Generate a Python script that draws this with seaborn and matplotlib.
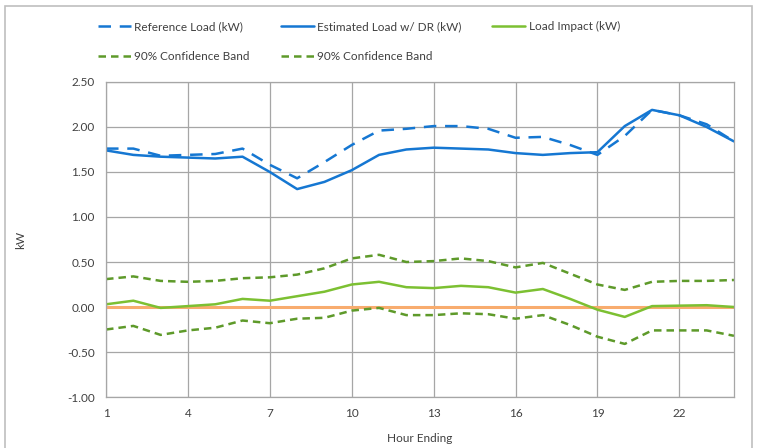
import numpy as np
import matplotlib
matplotlib.use("Agg")
import matplotlib.pyplot as plt
import pandas as pd
import seaborn as sns

hours = list(range(1, 25))

reference_load = [1.76, 1.76, 1.68, 1.69, 1.70, 1.76, 1.58, 1.43, 1.61, 1.80, 1.96, 1.98,
                  2.01, 2.01, 1.98, 1.88, 1.89, 1.80, 1.69, 1.90, 2.19, 2.13, 2.03, 1.84]
estimated_load = [1.74, 1.69, 1.67, 1.66, 1.65, 1.67, 1.50, 1.31, 1.39, 1.52, 1.69, 1.75,
                  1.77, 1.76, 1.75, 1.71, 1.69, 1.71, 1.72, 2.01, 2.19, 2.13, 2.00, 1.84]
load_impact = [0.03, 0.07, -0.01, 0.01, 0.03, 0.09, 0.07, 0.12, 0.17, 0.25, 0.28, 0.22,
               0.21, 0.235, 0.22, 0.16, 0.20, 0.09, -0.03, -0.11, 0.01, 0.015, 0.02, 0.00]
band_upper = [0.31, 0.34, 0.29, 0.28, 0.29, 0.32, 0.33, 0.36, 0.43, 0.54, 0.58, 0.50,
              0.51, 0.54, 0.51, 0.44, 0.49, 0.37, 0.25, 0.19, 0.28, 0.29, 0.29, 0.30]
band_lower = [-0.25, -0.21, -0.31, -0.26, -0.23, -0.15, -0.18, -0.13, -0.12, -0.04, -0.01, -0.09,
              -0.09, -0.07, -0.08, -0.13, -0.09, -0.20, -0.33, -0.41, -0.26, -0.26, -0.26, -0.32]

x_ticks = [1, 4, 7, 10, 13, 16, 19, 22]
y_ticks = [-1.0, -0.5, 0.0, 0.5, 1.0, 1.5, 2.0, 2.5]

blue = "#1577D2"
green = "#7CC032"
dark_green = "#5E9A2A"
orange = "#F8AC6E"

sns.set_style("white")
plt.rcParams["font.family"] = ["Lato", "DejaVu Sans"]

fig = plt.figure(figsize=(7.59, 4.48), dpi=100)
ax = fig.add_axes([0.1397, 0.1138, 0.8273, 0.7032])

# outer chart border
fig.patches.append(plt.Rectangle((0.007, -0.01), 0.984, 0.997, transform=fig.transFigure,
                                 fill=False, edgecolor="#BFBFBF", linewidth=1.2))

ax.axhline(0, color=orange, linewidth=2.2, zorder=2)

df = pd.DataFrame({"hour": hours, "ref": reference_load, "est": estimated_load,
                   "impact": load_impact, "upper": band_upper, "lower": band_lower})

sns.lineplot(data=df, x="hour", y="ref", ax=ax, color=blue, linewidth=1.8,
             label="Reference Load (kW)").lines[-1].set_dashes([5, 3.5])
sns.lineplot(data=df, x="hour", y="upper", ax=ax, color=dark_green, linewidth=1.8,
             label="90% Confidence Band").lines[-1].set_dashes([3, 2])
sns.lineplot(data=df, x="hour", y="est", ax=ax, color=blue, linewidth=1.8,
             label="Estimated Load w/ DR (kW)")
sns.lineplot(data=df, x="hour", y="lower", ax=ax, color=dark_green, linewidth=1.8,
             label="90% Confidence Band").lines[-1].set_dashes([3, 2])
sns.lineplot(data=df, x="hour", y="impact", ax=ax, color=green, linewidth=1.8,
             label="Load Impact (kW)")

ax.set_xlim(1, 24)
ax.set_ylim(-1.0, 2.5)
ax.set_xticks(x_ticks)
ax.set_yticks(y_ticks)
ax.set_yticklabels([f"{v:.2f}" for v in y_ticks])
ax.grid(True, color="#A6A6A6", linewidth=0.9)
for s in ax.spines.values():
    s.set_color("#A6A6A6")
    s.set_linewidth(0.9)
ax.tick_params(axis="both", length=0, labelsize=8.5, colors="#404040", pad=8)
ax.set_xlabel("Hour Ending", fontsize=8.5, color="#404040", labelpad=10)
ax.set_ylabel("kW", fontsize=8.5, color="#404040")
ax.yaxis.set_label_coords(-0.128, 0.5)

handles, labels = ax.get_legend_handles_labels()
ax.legend(handles, labels, ncol=3, loc="lower left", bbox_to_anchor=(-0.03, 1.03),
          frameon=False, fontsize=8.5, handlelength=2.8, handletextpad=0.3,
          columnspacing=2.6, labelspacing=1.6, labelcolor="#404040")

fig.savefig("out.png", dpi=100)
